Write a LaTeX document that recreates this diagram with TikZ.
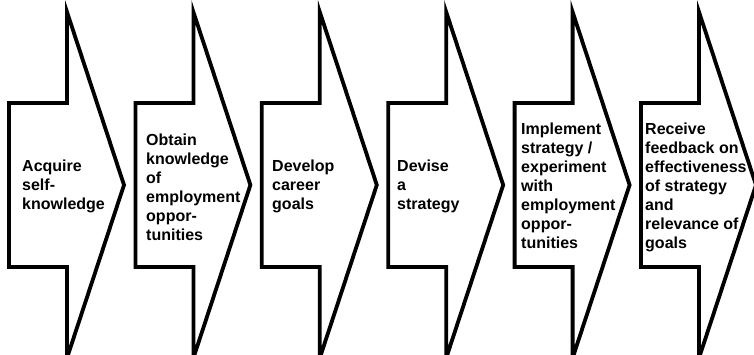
\documentclass[tikz,border=0pt]{standalone}
\usepackage{fontspec}
\setmainfont{Liberation Sans}
\usepackage{tikz}
\usetikzlibrary{positioning}

\tikzset{
    stagearrow/.style={draw=black, line width=3.8pt, line join=miter, fill=white},
    stagetext/.style={anchor=west, inner sep=0pt, align=left,
        font=\fontsize{16}{19}\selectfont\bfseries}
}

\begin{document}
\begin{tikzpicture}[x=1pt, y=1pt]
    \useasboundingbox (0,0) rectangle (754,-355);

    % Block arrows, one per stage
    \foreach \sx in {9, 135.4, 261.8, 388.2, 514.6, 641} {
        \draw[stagearrow] (\sx,-103) -- (\sx+58,-103) -- (\sx+58,-12)
            -- (\sx+115,-185) -- (\sx+58,-358) -- (\sx+58,-267)
            -- (\sx,-267) -- cycle;
    }

    % Stage labels
    \node[stagetext] (acquire) at (22,-186) {Acquire\\self-\\knowledge};
    \node[stagetext] (obtain) at (146,-187) {Obtain\\knowledge\\of\\employment\\oppor-\\tunities};
    \node[stagetext] (develop) at (272,-186) {Develop\\career\\goals};
    \node[stagetext] (devise) at (397,-186) {Devise\\a\\strategy};
    \node[stagetext] (implement) at (521,-186) {Implement\\strategy /\\experiment\\with\\employment\\oppor-\\tunities};
    \node[stagetext] (receive) at (645,-187) {Receive\\feedback on\\effectiveness\\of strategy\\and\\relevance of\\goals};
\end{tikzpicture}
\end{document}
